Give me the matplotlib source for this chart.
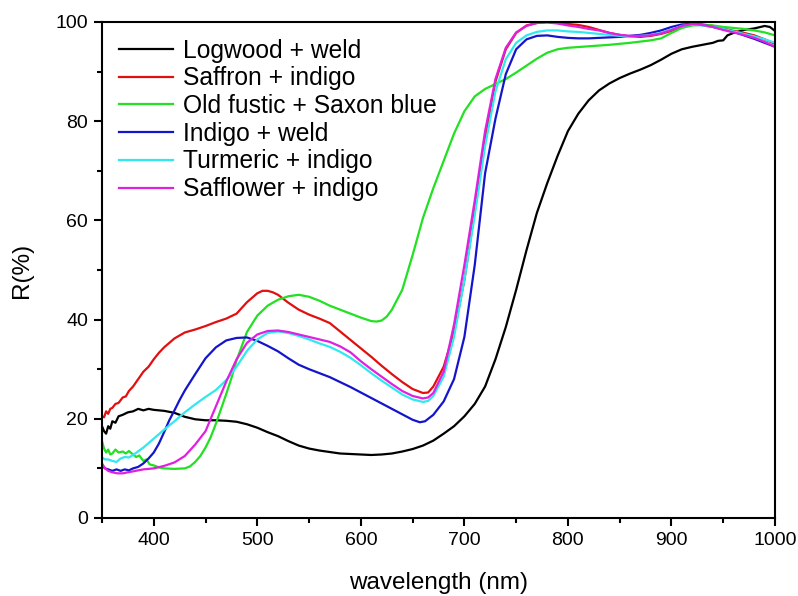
import matplotlib
matplotlib.use("Agg")
import matplotlib.pyplot as plt
from matplotlib.ticker import MultipleLocator

plt.rcParams['font.family'] = ['Liberation Sans', 'DejaVu Sans']

# Reflectance spectra, wavelength in nm, R in %
wl_logwood = [350, 352, 354, 356, 358, 360, 363, 366, 370, 375, 380, 385, 390, 395, 400, 410, 420, 430,
              440, 450, 460, 470, 480, 490, 500, 510, 520, 530, 540, 550, 560, 570, 580, 590, 600, 610,
              620, 630, 640, 650, 660, 670, 680, 690, 700, 710, 720, 730, 740, 750, 760, 770, 780, 790,
              800, 810, 820, 830, 840, 850, 860, 870, 880, 890, 900, 910, 920, 930, 940, 945, 950, 954,
              960, 970, 980, 990, 995, 1000]
r_logwood = [18.5, 17.5, 17.0, 18.5, 18.0, 19.5, 19.2, 20.5, 20.8, 21.3, 21.5, 22.0, 21.7, 22.0, 21.8,
             21.6, 21.2, 20.4, 19.9, 19.7, 19.7, 19.6, 19.4, 18.9, 18.2, 17.3, 16.5, 15.5, 14.6, 14.0,
             13.6, 13.3, 13.0, 12.9, 12.8, 12.7, 12.8, 13.0, 13.4, 13.9, 14.6, 15.6, 17.0, 18.5, 20.5,
             23.0, 26.5, 32.0, 38.5, 46.0, 54.0, 61.5, 67.5, 73.0, 78.0, 81.5, 84.2, 86.2, 87.6, 88.7,
             89.6, 90.4, 91.3, 92.4, 93.6, 94.5, 95.0, 95.4, 95.8, 96.2, 96.3, 97.3, 97.8, 98.4, 98.7,
             99.2, 99.0, 98.2]

wl_saffron = [350, 352, 354, 356, 358, 360, 363, 366, 370, 373, 376, 380, 385, 390, 395, 400, 405, 410,
              415, 420, 425, 430, 440, 450, 460, 470, 480, 490, 500, 505, 510, 515, 520, 530, 540, 550,
              560, 570, 580, 590, 600, 610, 620, 630, 640, 650, 660, 665, 670, 680, 690, 700, 710, 720,
              730, 740, 750, 760, 770, 780, 790, 800, 810, 820, 830, 840, 850, 860, 870, 880, 890, 900,
              910, 920, 930, 940, 950, 960, 970, 980, 990, 1000]
r_saffron = [20.5, 20.3, 21.5, 21.0, 22.0, 22.2, 23.0, 23.2, 24.3, 24.5, 25.6, 26.5, 28.0, 29.5, 30.5,
             32.0, 33.3, 34.4, 35.3, 36.2, 36.8, 37.4, 38.0, 38.7, 39.5, 40.2, 41.2, 43.5, 45.3, 45.8,
             45.8, 45.5, 45.0, 43.4, 42.0, 41.0, 40.2, 39.3, 37.6, 35.9, 34.2, 32.5, 30.7, 29.0, 27.4,
             26.0, 25.2, 25.3, 26.5, 30.5, 37.5, 48.0, 62.0, 76.5, 88.0, 94.5, 97.8, 99.3, 99.8, 100.0,
             99.8, 99.6, 99.4, 99.0, 98.4, 97.8, 97.4, 97.1, 97.0, 97.2, 97.6, 98.2, 99.0, 99.5, 99.5,
             99.2, 98.7, 98.2, 97.8, 97.3, 96.5, 95.6]

wl_fustic = [350, 352, 354, 356, 358, 360, 363, 366, 370, 373, 376, 380, 383, 386, 390, 393, 396, 400,
             405, 410, 420, 430, 435, 440, 445, 450, 455, 460, 465, 470, 475, 480, 490, 500, 510, 520,
             530, 540, 550, 560, 570, 580, 590, 600, 610, 615, 620, 625, 630, 640, 650, 660, 670, 680,
             690, 700, 710, 720, 730, 740, 750, 760, 770, 780, 790, 800, 820, 840, 860, 880, 890, 900,
             910, 920, 930, 940, 950, 960, 970, 980, 990, 1000]
r_fustic = [15.5, 14.0, 13.2, 13.8, 12.8, 13.0, 13.8, 13.2, 13.4, 13.0, 13.5, 12.8, 12.3, 12.6, 11.5,
            11.8, 10.8, 10.6, 10.2, 10.0, 9.9, 10.0, 10.4, 11.3, 12.5, 14.2, 16.3, 19.0, 22.0, 25.0,
            28.2, 31.8, 37.5, 40.8, 42.8, 44.0, 44.7, 45.0, 44.6, 43.8, 42.8, 42.0, 41.2, 40.4, 39.7,
            39.6, 39.8, 40.6, 42.0, 46.0, 53.0, 60.5, 66.5, 72.0, 77.5, 82.0, 85.0, 86.5, 87.5, 88.5,
            89.8, 91.2, 92.6, 93.8, 94.5, 94.8, 95.1, 95.4, 95.8, 96.3, 96.7, 97.8, 98.8, 99.3, 99.4,
            99.3, 99.0, 98.8, 98.6, 98.3, 97.9, 97.3]

wl_indigo = [350, 353, 356, 360, 364, 368, 372, 376, 380, 385, 390, 395, 400, 405, 410, 415, 420, 425,
             430, 440, 450, 460, 470, 480, 490, 500, 510, 520, 530, 540, 550, 560, 570, 580, 590, 600,
             610, 620, 630, 640, 650, 657, 662, 670, 680, 690, 700, 710, 720, 730, 740, 750, 760, 770,
             780, 790, 800, 810, 820, 830, 840, 850, 860, 870, 880, 890, 900, 910, 920, 930, 940, 950,
             960, 970, 980, 990, 1000]
r_indigo = [10.5, 10.0, 9.8, 9.5, 9.8, 9.5, 9.8, 9.6, 10.0, 10.3, 11.0, 12.0, 13.2, 15.0, 17.3, 19.7,
            21.7, 23.8, 25.7, 29.0, 32.2, 34.4, 35.8, 36.3, 36.4, 35.7, 34.7, 33.6, 32.2, 30.9, 30.0,
            29.2, 28.4, 27.4, 26.4, 25.3, 24.2, 23.1, 22.0, 20.9, 19.8, 19.3, 19.5, 20.8, 23.5, 28.0,
            36.5, 51.0, 69.5, 80.5, 89.5, 94.5, 96.5, 97.2, 97.3, 97.0, 96.8, 96.7, 96.7, 96.8, 96.9,
            97.0, 97.2, 97.4, 97.8, 98.3, 99.0, 99.5, 99.6, 99.4, 99.0, 98.5, 98.0, 97.3, 96.6, 95.8,
            95.0]

wl_turmeric = [350, 353, 356, 360, 364, 368, 372, 376, 380, 390, 400, 410, 420, 430, 440, 450, 460, 470,
               480, 490, 500, 510, 520, 530, 540, 550, 560, 570, 580, 590, 600, 610, 620, 630, 640, 650,
               660, 665, 670, 680, 690, 700, 710, 720, 730, 740, 750, 760, 770, 780, 790, 800, 810, 820,
               830, 840, 850, 860, 870, 880, 890, 900, 910, 920, 930, 940, 950, 960, 970, 980, 990, 1000]
r_turmeric = [12.2, 11.8, 11.8, 11.5, 11.3, 12.0, 12.3, 12.2, 12.7, 14.2, 16.0, 17.8, 19.5, 21.3, 22.9,
              24.4, 25.8, 27.8, 30.5, 33.7, 36.0, 37.3, 37.6, 37.3, 36.7, 36.0, 35.2, 34.5, 33.5, 32.3,
              30.8, 29.2, 27.7, 26.3, 24.9, 23.9, 23.4, 23.6, 24.6, 28.5, 36.5, 48.0, 61.0, 75.0, 86.0,
              92.5, 95.8, 97.3, 98.0, 98.3, 98.3, 98.1, 98.0, 97.8, 97.6, 97.4, 97.2, 97.1, 97.2, 97.4,
              97.8, 98.5, 99.2, 99.5, 99.3, 99.0, 98.6, 98.1, 97.6, 97.1, 96.5, 95.8]

wl_safflower = [350, 353, 356, 360, 365, 370, 375, 380, 390, 400, 410, 420, 430, 440, 450, 460, 470, 480,
                490, 500, 510, 520, 530, 540, 550, 560, 570, 580, 590, 600, 610, 620, 630, 640, 650, 660,
                665, 670, 680, 690, 700, 710, 720, 730, 740, 750, 760, 770, 780, 790, 800, 810, 820, 830,
                840, 850, 860, 870, 880, 890, 900, 910, 920, 930, 940, 950, 960, 970, 980, 990, 1000]
r_safflower = [11.0, 10.0, 9.5, 9.2, 9.0, 9.0, 9.2, 9.4, 9.8, 10.0, 10.5, 11.2, 12.5, 14.8, 17.5, 22.5,
               27.5, 32.0, 35.3, 37.0, 37.7, 37.8, 37.5, 37.0, 36.5, 36.0, 35.5, 34.6, 33.4, 31.6, 30.0,
               28.5, 27.0, 25.6, 24.6, 24.1, 24.3, 25.2, 29.5, 39.0, 51.0, 64.0, 78.0, 88.5, 94.8, 97.9,
               99.2, 99.8, 99.9, 99.7, 99.3, 99.0, 98.6, 98.3, 97.8, 97.4, 97.2, 97.2, 97.3, 97.7, 98.4,
               99.2, 99.6, 99.4, 99.0, 98.4, 97.9, 97.4, 96.8, 96.0, 95.0]

series = [
    ("Logwood + weld", wl_logwood, r_logwood, "#000000"),
    ("Saffron + indigo", wl_saffron, r_saffron, "#e01010"),
    ("Old fustic + Saxon blue", wl_fustic, r_fustic, "#22e022"),
    ("Indigo + weld", wl_indigo, r_indigo, "#1414cc"),
    ("Turmeric + indigo", wl_turmeric, r_turmeric, "#30e8f0"),
    ("Safflower + indigo", wl_safflower, r_safflower, "#e020e0"),
]

fig = plt.figure(figsize=(7.98, 5.96), dpi=100)
ax = fig.add_axes([0.1278, 0.1309, 0.8434, 0.8322])

for label, x, y, color in series:
    ax.plot(x, y, color=color, lw=1.6, label=label)

ax.set_xlim(350, 1000)
ax.set_ylim(0, 100)
ax.xaxis.set_major_locator(MultipleLocator(100))
ax.xaxis.set_minor_locator(MultipleLocator(50))
ax.yaxis.set_major_locator(MultipleLocator(20))
ax.yaxis.set_minor_locator(MultipleLocator(10))
ax.tick_params(which='major', direction='out', length=6, width=1.5, labelsize=14, pad=4)
ax.tick_params(which='minor', direction='out', length=3.5, width=1.5)
ax.tick_params(top=False, right=False, which='both')
for s in ax.spines.values():
    s.set_linewidth(1.5)

ax.set_xlabel("wavelength (nm)", fontsize=17.5, labelpad=17)
ax.set_ylabel("R(%)", fontsize=17.5, labelpad=16)

leg = ax.legend(loc='upper left', bbox_to_anchor=(0.0, 1.0), frameon=False, fontsize=17.7,
                handlelength=2.2, handletextpad=0.4, labelspacing=0.15, borderaxespad=0.28)

fig.savefig("out.png", dpi=100)
